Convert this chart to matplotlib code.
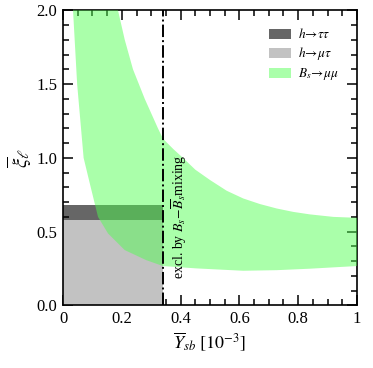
import matplotlib
matplotlib.use("Agg")
import matplotlib.pyplot as plt
import numpy as np
from matplotlib.patches import Patch
from matplotlib.ticker import MultipleLocator

plt.rcParams['font.family'] = ['Liberation Serif', 'DejaVu Serif']
plt.rcParams['mathtext.fontset'] = 'stix'

# constraint bands
x_excl = 0.34          # Bs-Bsbar mixing bound on Y_sb
h_tautau = 0.68        # upper edge of h->tau tau band
h_mutau = 0.58         # upper edge of h->mu tau band

# Bs->mu mu allowed band: upper and lower boundary
up_x = [0.187, 0.21, 0.238, 0.278, 0.323, 0.34, 0.375, 0.408, 0.45, 0.5, 0.557,
        0.613, 0.67, 0.727, 0.783, 0.84, 0.92, 1.0]
up_y = [2.0, 1.8, 1.6, 1.4, 1.2, 1.13, 1.06, 1.0, 0.92, 0.85, 0.777,
        0.725, 0.687, 0.657, 0.634, 0.617, 0.60, 0.594]
lo_x = [0.034, 0.048, 0.07, 0.091, 0.119, 0.153, 0.21, 0.283, 0.34, 0.454, 0.613, 0.727, 0.84, 1.0]
lo_y = [2.0, 1.5, 1.0, 0.827, 0.6, 0.488, 0.375, 0.307, 0.267, 0.251, 0.235, 0.239, 0.249, 0.267]

xticks = [0, 0.2, 0.4, 0.6, 0.8, 1.0]
xticklabels = ['0', '0.2', '0.4', '0.6', '0.8', '1']

green = '#4eff4e'
fig = plt.figure(figsize=(3.73, 3.68), dpi=100)
ax = fig.add_axes([0.169, 0.170, 0.788, 0.802])

# gray bands
ax.fill_between([0, x_excl], 0, h_tautau, color='#666666', lw=0, zorder=1)
ax.fill_between([0, x_excl], 0, h_mutau, color='#c2c2c2', lw=0, zorder=2)

# green band
px = np.concatenate([up_x, lo_x[::-1]])
py = np.concatenate([up_y, lo_y[::-1]])
ax.fill(px, py, color=green, alpha=0.48, lw=0, zorder=3)

ax.axvline(x_excl, color='k', ls='-.', lw=1.4, zorder=4)
ax.text(0.395, 0.6, r'excl. by $B_s\!-\!\overline{B}_s$mixing', rotation=90,
        ha='center', va='center', fontsize=10, zorder=5)

ax.set_xlim(0, 1)
ax.set_ylim(0, 2)
ax.set_xticks(xticks)
ax.set_xticklabels(xticklabels)
ax.set_yticks([0, 0.5, 1.0, 1.5, 2.0])
ax.set_yticklabels(['0.0', '0.5', '1.0', '1.5', '2.0'])
ax.xaxis.set_minor_locator(MultipleLocator(0.05))
ax.yaxis.set_minor_locator(MultipleLocator(0.1))
ax.tick_params(which='both', direction='in', top=True, right=True, labelsize=12, width=1.1)
ax.tick_params(which='major', length=7, pad=4)
ax.tick_params(which='minor', length=4)
for s in ax.spines.values():
    s.set_linewidth(1.2)

ax.set_xlabel(r'$\overline{Y}_{sb}\ [10^{-3}]$', fontsize=13, labelpad=2)
ax.set_ylabel(r'$\overline{\xi}_\ell$', fontsize=15, labelpad=2)

handles = [Patch(color='#666666', lw=0), Patch(color='#c2c2c2', lw=0),
           Patch(color=green, alpha=0.48, lw=0)]
labels = [r'$h\!\to\!\tau\tau$', r'$h\!\to\!\mu\tau$', r'$B_s\!\to\!\mu\mu$']
ax.legend(handles, labels, loc='upper right', frameon=False, fontsize=9.5,
          handlelength=1.7, handleheight=0.8, handletextpad=0.5, labelspacing=0.3,
          borderaxespad=0.9, bbox_to_anchor=(0.995, 1.0))

fig.savefig('out.png', dpi=100)
